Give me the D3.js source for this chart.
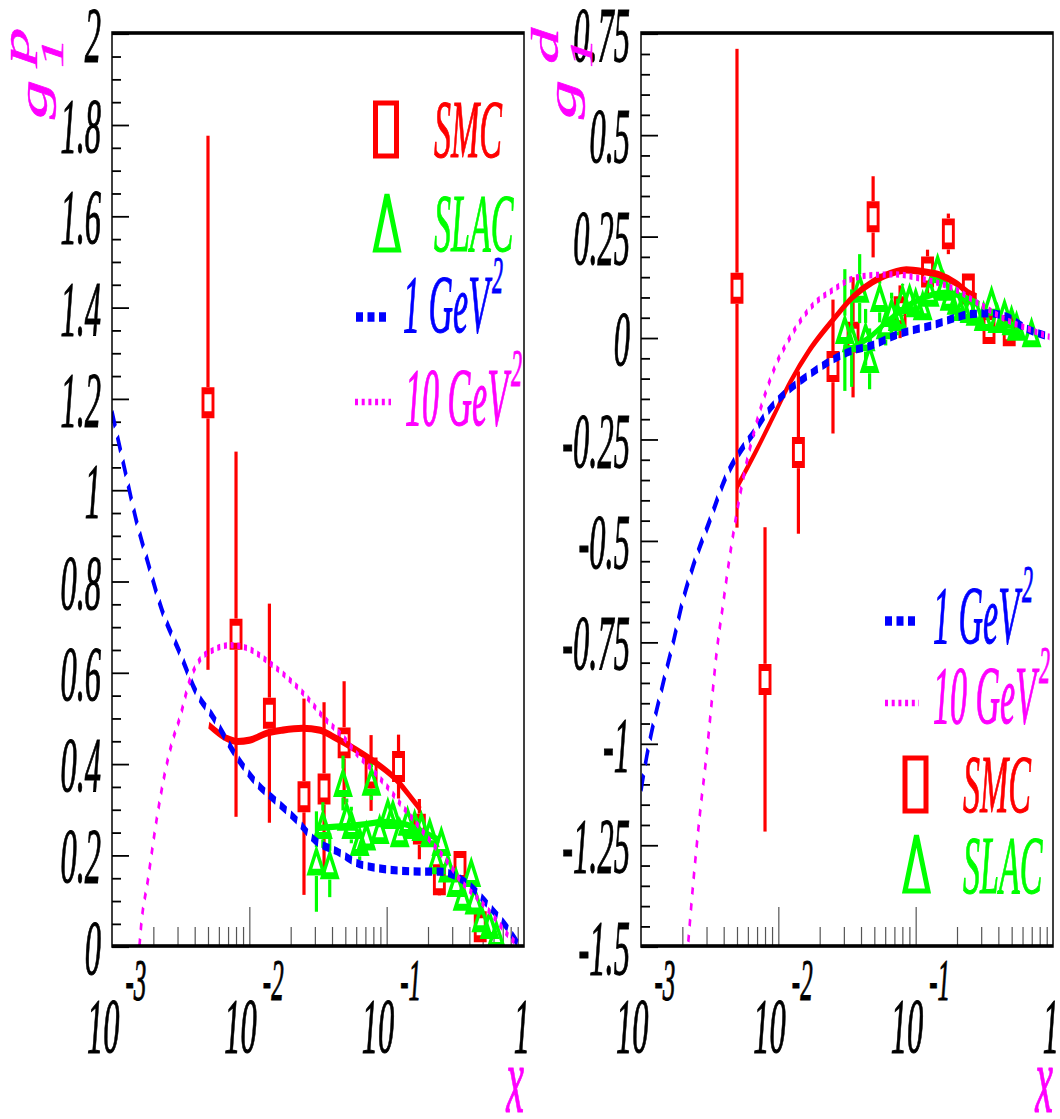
<!DOCTYPE html>
<html>
<head>
<meta charset="utf-8">
<script src="https://cdn.jsdelivr.net/npm/d3@7"></script>
<style>
  html, body { margin: 0; padding: 0; background: #ffffff; }
  svg { display: block; }
</style>
</head>
<body>
<svg id="chart" width="1060" height="1119"></svg>
<script>
// ---------------- data ----------------
// SMC x bins (shared by proton and deuteron)
const smcX = [0.005, 0.008, 0.014, 0.025, 0.035, 0.049, 0.077, 0.122, 0.173, 0.242, 0.342, 0.480];
const smcProton    = [1.19, 0.683, 0.51, 0.327, 0.344, 0.445, 0.379, 0.393, 0.256, 0.145, 0.174, 0.042];
const smcProtonErr = [0.585, 0.40, 0.24, 0.215, 0.19, 0.135, 0.083, 0.07, 0.066, 0.035, 0.03, 0.02];
const smcDeuteron    = [0.121, -0.843, -0.284, -0.072, 0.0, 0.297, 0.063, 0.161, 0.255, 0.119, 0.022, 0.016];
const smcDeuteronErr = [0.59, 0.375, 0.20, 0.165, 0.148, 0.10, 0.065, 0.055, 0.05, 0.03, 0.03, 0.03];

// SLAC proton
const slacProtonX   = [0.0308, 0.0343, 0.0385, 0.0481, 0.0512, 0.0553, 0.0636, 0.0711, 0.0775, 0.0889, 0.102, 0.111, 0.1245, 0.142, 0.160, 0.179, 0.206, 0.230, 0.250, 0.279, 0.321, 0.357, 0.413, 0.436, 0.489, 0.561, 0.628];
const slacProton    = [0.185, 0.265, 0.177, 0.357, 0.283, 0.265, 0.228, 0.24, 0.36, 0.254, 0.291, 0.287, 0.247, 0.272, 0.265, 0.261, 0.247, 0.188, 0.228, 0.17, 0.138, 0.108, 0.16, 0.10, 0.061, 0.046, 0.024];
const slacProtonErr = [0.11, 0.05, 0.07, 0.06, 0.04, 0.04, 0.04, 0.03, 0.04, 0.03, 0.03, 0.03, 0.03, 0.02, 0.02, 0.02, 0.02, 0.02, 0.02, 0.02, 0.015, 0.015, 0.015, 0.015, 0.01, 0.01, 0.01];

// SLAC deuteron
const slacDeuteronX   = [0.0305, 0.0342, 0.0391, 0.0432, 0.0462, 0.0547, 0.0605, 0.0668, 0.074, 0.0803, 0.0903, 0.1, 0.1125, 0.1265, 0.1445, 0.16, 0.1767, 0.1986, 0.2198, 0.247, 0.273, 0.3126, 0.357, 0.3945, 0.4436, 0.499, 0.543, 0.698];
const slacDeuteron    = [0.018, -0.002, 0.12, 0.0, -0.053, 0.097, 0.03, 0.06, 0.05, 0.092, 0.094, 0.084, 0.077, 0.11, 0.168, 0.125, 0.10, 0.09, 0.075, 0.07, 0.063, 0.05, 0.088, 0.045, 0.057, 0.04, 0.026, 0.01];
const slacDeuteronErr = [0.15, 0.12, 0.085, 0.07, 0.075, 0.06, 0.05, 0.05, 0.045, 0.04, 0.035, 0.03, 0.03, 0.03, 0.03, 0.025, 0.025, 0.02, 0.02, 0.02, 0.02, 0.02, 0.02, 0.02, 0.02, 0.02, 0.02, 0.02];

// g1p curves
const p1GeVX = [0.001, 0.00124, 0.0015, 0.00183, 0.00231, 0.00312, 0.00413, 0.00543, 0.00807, 0.01127, 0.01667, 0.02203, 0.0299, 0.0455, 0.0605, 0.0845, 0.1245, 0.183, 0.243, 0.323, 0.422, 0.561, 0.746, 0.897];
const p1GeV  = [1.17, 1.043, 0.933, 0.839, 0.736, 0.642, 0.554, 0.502, 0.415, 0.357, 0.31, 0.276, 0.232, 0.204, 0.182, 0.171, 0.165, 0.163, 0.163, 0.152, 0.127, 0.086, 0.042, 0.006];
const p10GeVX = [0.001585, 0.001625, 0.001827, 0.002111, 0.002429, 0.002731, 0.00312, 0.003694, 0.004365, 0.00543, 0.007213, 0.009541, 0.01409, 0.0197, 0.02606, 0.0344, 0.04786, 0.06021, 0.0791, 0.1051, 0.1307, 0.1644, 0.2055, 0.2716, 0.357, 0.4747, 0.6279, 0.7843, 0.8967];
const p10GeV  = [0.0, 0.04, 0.145, 0.276, 0.379, 0.445, 0.50, 0.583, 0.627, 0.648, 0.659, 0.653, 0.62, 0.583, 0.546, 0.502, 0.459, 0.422, 0.385, 0.342, 0.305, 0.269, 0.232, 0.188, 0.138, 0.10, 0.057, 0.02, 0.004];
const pFitX = [0.00507, 0.00682, 0.0082, 0.01008, 0.01333, 0.01752, 0.0245, 0.03257, 0.0405, 0.0605, 0.0845, 0.118, 0.155, 0.177];
const pFit  = [0.484, 0.455, 0.448, 0.451, 0.466, 0.473, 0.477, 0.473, 0.459, 0.429, 0.40, 0.364, 0.32, 0.298];
const pSlacLineX = [0.0308, 0.0405, 0.0538, 0.0711, 0.0935, 0.1245, 0.164, 0.2056, 0.243];
const pSlacLine  = [0.258, 0.261, 0.263, 0.267, 0.272, 0.269, 0.258, 0.243, 0.232];

// g1d curves
const d1GeVX = [0.001, 0.00109, 0.00145, 0.00171, 0.00202, 0.00239, 0.00318, 0.00408, 0.00555, 0.00656, 0.0082, 0.0115, 0.016, 0.0224, 0.0331, 0.0489, 0.0724, 0.107, 0.134, 0.198, 0.247, 0.345, 0.457, 0.638, 0.944];
const d1GeV  = [-1.116, -1.041, -0.852, -0.754, -0.648, -0.565, -0.45, -0.35, -0.27, -0.237, -0.187, -0.134, -0.097, -0.064, -0.035, -0.019, 0.006, 0.022, 0.03, 0.049, 0.057, 0.059, 0.051, 0.022, 0.001];
const d10GeVX = [0.00221, 0.0024, 0.00269, 0.00301, 0.00327, 0.00355, 0.00397, 0.00432, 0.00525, 0.00713, 0.0082, 0.0097, 0.0115, 0.0143, 0.0179, 0.025, 0.035, 0.0518, 0.0724, 0.107, 0.149, 0.198, 0.261, 0.345, 0.457, 0.603, 0.798, 0.944];
const d10GeV  = [-1.49, -1.345, -1.172, -1.025, -0.90, -0.778, -0.655, -0.565, -0.39, -0.196, -0.13, -0.064, -0.015, 0.038, 0.08, 0.117, 0.145, 0.154, 0.155, 0.145, 0.133, 0.117, 0.092, 0.067, 0.043, 0.026, 0.01, 0.001];
const dFitX = [0.005, 0.00694, 0.00917, 0.0121, 0.0169, 0.025, 0.035, 0.0489, 0.0724, 0.0855, 0.113, 0.149, 0.198, 0.247, 0.278];
const dFit  = [-0.369, -0.278, -0.196, -0.113, -0.031, 0.043, 0.10, 0.137, 0.162, 0.166, 0.162, 0.154, 0.133, 0.108, 0.10];
const dSlacLineX = [0.032, 0.0462, 0.0615, 0.095, 0.133, 0.168, 0.22, 0.292];
const dSlacLine  = [-0.032, 0.0, 0.038, 0.085, 0.105, 0.11, 0.10, 0.082];

// axis tick labels
const protonTicks   = [0, 0.2, 0.4, 0.6, 0.8, 1, 1.2, 1.4, 1.6, 1.8, 2];
const deuteronTicks = [-1.5, -1.25, -1, -0.75, -0.5, -0.25, 0, 0.25, 0.5, 0.75];
const xLabelValues = [0.001, 0.01, 0.1, 1];
const xLabelBases  = ['10', '10', '10', '1'];
const xLabelExps   = ['-3', '-2', '-1', ''];

// ---------------- layout ----------------
// The whole picture is drawn in a vertically stretched frame (K),
// which gives the tall narrow lettering and the heavier horizontal strokes.
const K = 2.4;
const TOP = 33 / K, BOTTOM = 946 / K;
const FONT = '"Liberation Serif", "Times New Roman", Times, serif';
const RED = '#ff0000', GREEN = '#00ff00', BLUE = '#0000ff', MAGENTA = '#ff00ff';
const TEXT_STROKE = 0.45;

const svg = d3.select('#chart');
const defs = svg.append('defs');
const root = svg.append('g').attr('transform', `scale(1,${K})`);

function italicText(parent, x, yScreen, str, size, color, anchor) {
  return parent.append('text')
    .attr('x', x).attr('y', yScreen / K)
    .attr('font-family', FONT).attr('font-style', 'italic')
    .attr('font-size', size).attr('fill', color)
    .attr('stroke', color).attr('stroke-width', TEXT_STROKE)
    .attr('text-anchor', anchor || 'start')
    .text(str);
}

function textWithSup(parent, x, yScreen, supYScreen, str, sup, color) {
  const t = italicText(parent, x, yScreen, str, 34, color);
  const w = t.node().getComputedTextLength();
  italicText(parent, x + w + 3, supYScreen, sup, 22, color);
}

const SQUARE = 'M-5,-5H5V5H-5Z';
const TRIANGLE = 'M0,-4.8L7,4.4L-7,4.4Z';

function drawPoints(g, x, y, xs, vs, es, shape, color) {
  const half = shape === SQUARE ? 6.5 : 6.0;
  const pts = xs.map((xv, i) => ({
    x: x(xv), y: y(vs[i]), hi: y(vs[i] + es[i]), lo: y(vs[i] - es[i])
  }));
  const bars = g.append('g').attr('stroke', color).attr('stroke-width', 3.2);
  bars.selectAll('line.up').data(pts.filter(d => d.hi < d.y - half)).join('line')
    .attr('class', 'up')
    .attr('x1', d => d.x).attr('x2', d => d.x)
    .attr('y1', d => d.hi).attr('y2', d => d.y - half);
  bars.selectAll('line.down').data(pts.filter(d => d.lo > d.y + half)).join('line')
    .attr('class', 'down')
    .attr('x1', d => d.x).attr('x2', d => d.x)
    .attr('y1', d => d.y + half).attr('y2', d => d.lo);
  g.append('g').selectAll('path').data(pts).join('path')
    .attr('d', shape)
    .attr('transform', d => `translate(${d.x},${d.y})`)
    .attr('fill', 'none').attr('stroke', color).attr('stroke-width', 2.9)
    .attr('stroke-linejoin', 'miter');
}

function drawCurve(g, x, y, xs, vs, color, width, dash) {
  const line = d3.line().x(d => x(d[0])).y(d => y(d[1])).curve(d3.curveMonotoneX);
  const p = g.append('path')
    .attr('d', line(xs.map((xv, i) => [xv, vs[i]])))
    .attr('fill', 'none').attr('stroke', color).attr('stroke-width', width)
    .attr('stroke-linecap', 'butt').attr('stroke-linejoin', 'round');
  if (dash) p.attr('stroke-dasharray', dash);
}

function legendMarker(g, cx, cyScreen, shape, color) {
  const d = shape === 'square'
    ? `M-10.5,-11H10.5V11H-10.5Z`
    : `M0,-12L11.5,11.3L-11.5,11.3Z`;
  g.append('path').attr('d', d)
    .attr('transform', `translate(${cx},${cyScreen / K})`)
    .attr('fill', 'none').attr('stroke', color).attr('stroke-width', 5)
    .attr('vector-effect', 'non-scaling-stroke');
}

function legendLine(g, x0, x1, yScreen, color, width, dash) {
  g.append('line').attr('x1', x0).attr('x2', x1)
    .attr('y1', yScreen / K).attr('y2', yScreen / K)
    .attr('stroke', color).attr('stroke-width', width)
    .attr('stroke-dasharray', dash);
}

function drawPanel(p) {
  const x = d3.scaleLog().domain([1e-3, 1]).range([p.left, p.right]);
  const y = d3.scaleLinear().domain(p.yDomain).range([BOTTOM, TOP]);
  const g = root.append('g');

  defs.append('clipPath').attr('id', 'clip-' + p.id)
    .append('rect').attr('x', p.left).attr('y', TOP)
    .attr('width', p.right - p.left).attr('height', BOTTOM - TOP);

  // x ticks: minor (2..9 per decade) and decade marks, rising from the bottom
  const xMinor = [];
  for (const dec of [1e-3, 1e-2, 1e-1]) for (let m = 2; m <= 9; m++) xMinor.push(dec * m);
  const xTickStyle = a => {
    a.select('.domain').remove();
    a.selectAll('line').attr('stroke', '#555').attr('stroke-width', 1.2);
  };
  g.append('g').attr('transform', `translate(0,${BOTTOM})`)
    .call(d3.axisBottom(x).tickValues(xMinor).tickSize(-19 / K).tickFormat(() => ''))
    .call(xTickStyle);
  g.append('g').attr('transform', `translate(0,${BOTTOM})`)
    .call(d3.axisBottom(x).tickValues([0.01, 0.1]).tickSize(-39 / K).tickFormat(() => ''))
    .call(xTickStyle);

  // y ticks: labelled majors and minor steps of 0.05 pointing inward
  const [y0, y1] = p.yDomain;
  const yMinor = d3.range(Math.round((y1 - y0) / 0.05) + 1)
    .map(i => +(y0 + i * 0.05).toFixed(3))
    .filter(v => !p.ticks.some(t => Math.abs(t - v) < 1e-6));
  g.append('g').attr('transform', `translate(${p.left},0)`)
    .call(d3.axisLeft(y).tickValues(yMinor).tickSize(-9).tickFormat(() => ''))
    .call(a => a.select('.domain').remove())
    .call(a => a.selectAll('line').attr('stroke', '#000').attr('stroke-width', 0.75));
  g.append('g').attr('transform', `translate(${p.left},0)`)
    .call(d3.axisLeft(y).tickValues(p.ticks).tickSize(-17).tickPadding(11)
      .tickFormat(d => String(+d.toFixed(2))))
    .call(a => a.select('.domain').remove())
    .call(a => a.selectAll('line').attr('stroke', '#000').attr('stroke-width', 0.75))
    .call(a => a.selectAll('text')
      .attr('font-family', FONT).attr('font-style', 'italic')
      .attr('font-size', 32.5).attr('fill', '#000')
      .attr('stroke', '#000').attr('stroke-width', TEXT_STROKE)
      .attr('dy', '0.34em'));

  // x labels: 10 with raised exponent
  xLabelValues.forEach((v, i) => {
    const tx = x(v);
    if (xLabelExps[i]) {
      italicText(g, tx + 7.5, 1052, xLabelBases[i], 32.5, '#000', 'end');
      italicText(g, tx + 13.5, 1000, xLabelExps[i], 25, '#000', 'start');
    } else {
      italicText(g, tx - 2, 1052, xLabelBases[i], 32.5, '#000', 'middle');
    }
  });
  italicText(g, p.right, 1112, 'x', 40, MAGENTA, 'end');

  // rotated y title: g with subscript 1 and a superscript
  const title = (txt, size, bx, sy) => g.append('text')
    .attr('transform', `translate(${bx},${sy / K}) rotate(-90) scale(0.82,1)`)
    .attr('font-family', FONT).attr('font-style', 'italic')
    .attr('font-size', size).attr('fill', MAGENTA)
    .attr('stroke', MAGENTA).attr('stroke-width', TEXT_STROKE).text(txt);
  const o = p.left - 112;
  title('g', 40, 47 + o, 119);
  title('1', 31, 63 + o, 68);
  title(p.sup, 37, 29 + o, 64);

  // plotted content
  const plot = g.append('g').attr('clip-path', `url(#clip-${p.id})`);
  drawPoints(plot, x, y, smcX, p.smc, p.smcErr, SQUARE, RED);
  drawPoints(plot, x, y, p.slacX, p.slac, p.slacErr, TRIANGLE, GREEN);
  drawCurve(plot, x, y, p.fitX, p.fit, RED, 3.0);
  drawCurve(plot, x, y, p.slacLineX, p.slacLine, GREEN, 2.6);
  drawCurve(plot, x, y, p.q1X, p.q1, BLUE, 3.4, '7,4.5');
  drawCurve(plot, x, y, p.q10X, p.q10, MAGENTA, 2.6, '3,3.7');

  // frame
  g.append('rect').attr('x', p.left).attr('y', TOP)
    .attr('width', p.right - p.left).attr('height', BOTTOM - TOP)
    .attr('fill', 'none').attr('stroke', '#000').attr('stroke-width', 1.5);

  // legend
  const L = p.legend;
  const lg = g.append('g');
  legendMarker(lg, L.smc[0], L.smc[1], 'square', RED);
  italicText(lg, L.smcText[0], L.smcText[1], 'SMC', 34, RED);
  legendMarker(lg, L.slac[0], L.slac[1], 'triangle', GREEN);
  italicText(lg, L.slacText[0], L.slacText[1], 'SLAC', 34, GREEN);
  legendLine(lg, L.q1Line[0], L.q1Line[1], L.q1Line[2], BLUE, 4, '7,4.5');
  textWithSup(lg, L.q1Text[0], L.q1Text[1], L.q1Text[2], '1 GeV', '2', BLUE);
  legendLine(lg, L.q10Line[0], L.q10Line[1], L.q10Line[2], MAGENTA, 2.8, '3,3.7');
  textWithSup(lg, L.q10Text[0], L.q10Text[1], L.q10Text[2], '10 GeV', '2', MAGENTA);
}

drawPanel({
  id: 'p', left: 112, right: 524, yDomain: [0, 2], ticks: protonTicks, sup: 'p',
  smc: smcProton, smcErr: smcProtonErr,
  slacX: slacProtonX, slac: slacProton, slacErr: slacProtonErr,
  fitX: pFitX, fit: pFit, slacLineX: pSlacLineX, slacLine: pSlacLine,
  q1X: p1GeVX, q1: p1GeV, q10X: p10GeVX, q10: p10GeV,
  legend: {
    smc: [386, 129.5], smcText: [434, 157],
    slac: [387, 223], slacText: [434, 251],
    q1Line: [356, 388, 317], q1Text: [403, 332, 293],
    q10Line: [355, 391, 402], q10Text: [405, 425, 386]
  }
});

drawPanel({
  id: 'd', left: 641, right: 1053, yDomain: [-1.5, 0.75], ticks: deuteronTicks, sup: 'd',
  smc: smcDeuteron, smcErr: smcDeuteronErr,
  slacX: slacDeuteronX, slac: slacDeuteron, slacErr: slacDeuteronErr,
  fitX: dFitX, fit: dFit, slacLineX: dSlacLineX, slacLine: dSlacLine,
  q1X: d1GeVX, q1: d1GeV, q10X: d10GeVX, q10: d10GeV,
  legend: {
    smc: [915.5, 784.5], smcText: [963, 812],
    slac: [916.5, 864], slacText: [963, 893],
    q1Line: [885, 918, 621], q1Text: [933, 643, 602],
    q10Line: [885, 919, 703], q10Text: [933, 723, 683]
  }
});
</script>
</body>
</html>
